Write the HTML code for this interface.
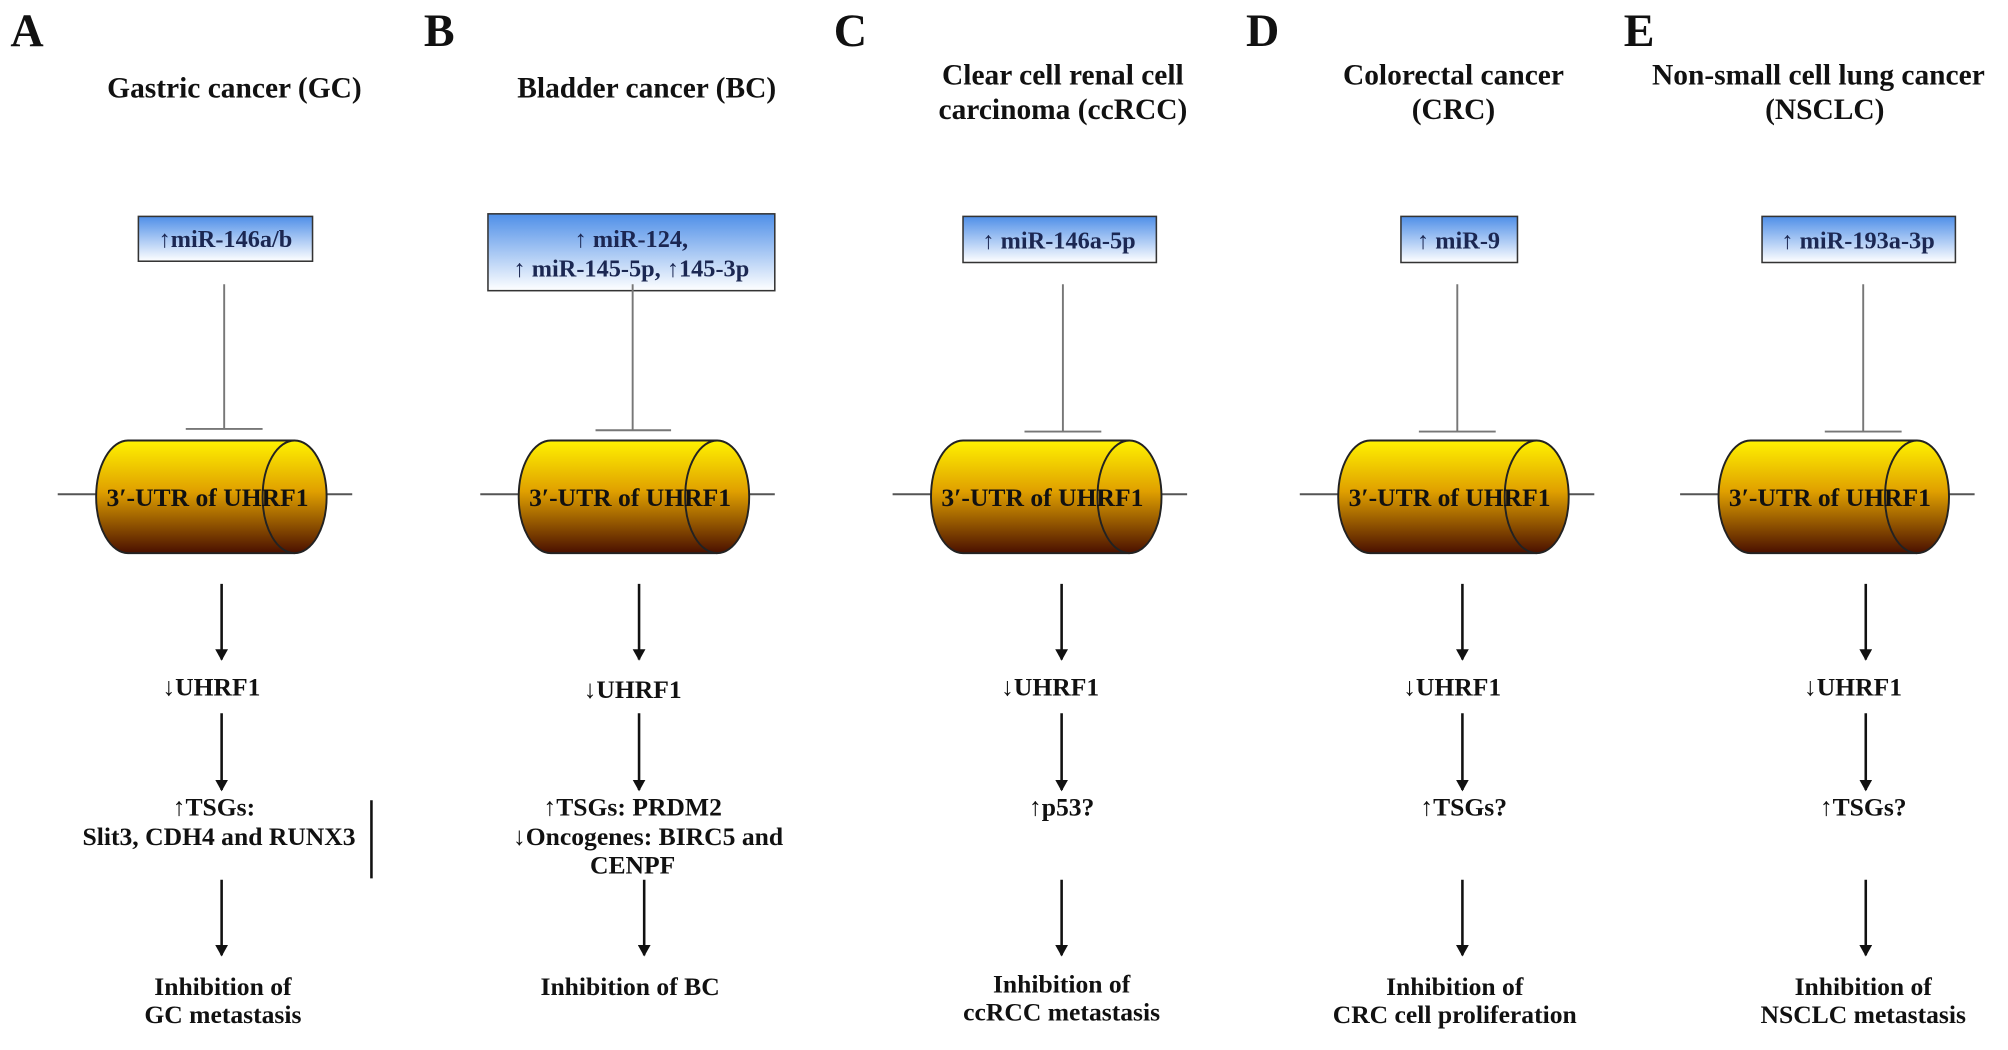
<!DOCTYPE html>
<html><head><meta charset="utf-8"><style>
html,body{margin:0;padding:0;background:#fff;}
svg{display:block;}
text{font-family:"Liberation Serif",serif;font-weight:bold;fill:#111;}
.t{font-size:23px;}
.b{font-size:20px;}
.bx{font-size:19px;fill:#1b2752;}
.L{font-size:36px;}
</style></head><body>
<svg width="2008" height="1050" viewBox="0 0 1568 820" xmlns="http://www.w3.org/2000/svg">
<defs>
<linearGradient id="bl" x1="0" y1="0" x2="0" y2="1"><stop offset="0" stop-color="#4f8fe8"/><stop offset="1" stop-color="#ffffff"/></linearGradient>
<linearGradient id="cy" x1="0" y1="0" x2="0" y2="1"><stop offset="0" stop-color="#fff200"/><stop offset="0.45" stop-color="#e0a000"/><stop offset="1" stop-color="#4a1000"/></linearGradient>
<marker id="ar" markerWidth="10" markerHeight="10" refX="8" refY="5" orient="auto" markerUnits="userSpaceOnUse"><path d="M0,0 L9,5 L0,10 Z" fill="#111"/></marker>
<g id="cyl">
<line x1="-125" y1="-2" x2="105" y2="-2" stroke="#555" stroke-width="1.5"/>
<path d="M-70,-44 L60,-44 A25,44 0 0 1 60,44 L-70,44 A25,44 0 0 1 -70,-44 Z" fill="url(#cy)" stroke="#222" stroke-width="1.5"/>
<path d="M60,-44 A25,44 0 0 0 60,44" fill="none" stroke="#222" stroke-width="1.5"/>
<text x="-8" y="7" class="b" text-anchor="middle" fill="#222">3′-UTR of UHRF1</text>
</g>
</defs>
<text x="8" y="36" class="L">A</text>
<text x="331" y="36" class="L">B</text>
<text x="651" y="36" class="L">C</text>
<text x="973" y="36" class="L">D</text>
<text x="1268" y="36" class="L">E</text>

<text x="183" y="76" class="t" text-anchor="middle">Gastric cancer (GC)</text>
<text x="505" y="76" class="t" text-anchor="middle">Bladder cancer (BC)</text>
<text x="830" y="66" class="t" text-anchor="middle">Clear cell renal cell</text>
<text x="830" y="93" class="t" text-anchor="middle">carcinoma (ccRCC)</text>
<text x="1135" y="66" class="t" text-anchor="middle">Colorectal cancer</text>
<text x="1135" y="93" class="t" text-anchor="middle">(CRC)</text>
<text x="1420" y="66" class="t" text-anchor="middle">Non-small cell lung cancer</text>
<text x="1425" y="93" class="t" text-anchor="middle">(NSCLC)</text>

<g stroke="#333" stroke-width="1.2">
<rect x="108" y="169" width="136" height="35" fill="url(#bl)"/>
<rect x="381" y="167" width="224" height="60" fill="url(#bl)"/>
<rect x="752" y="169" width="151" height="36" fill="url(#bl)"/>
<rect x="1094" y="169" width="91" height="36" fill="url(#bl)"/>
<rect x="1376" y="169" width="151" height="36" fill="url(#bl)"/>
</g>
<text x="176" y="193" class="bx" text-anchor="middle">↑miR-146a/b</text>
<text x="493" y="193" class="bx" text-anchor="middle">↑ miR-124,</text>
<text x="493" y="216" class="bx" text-anchor="middle">↑ miR-145-5p, ↑145-3p</text>
<text x="827" y="194" class="bx" text-anchor="middle">↑ miR-146a-5p</text>
<text x="1139" y="194" class="bx" text-anchor="middle">↑ miR-9</text>
<text x="1451" y="194" class="bx" text-anchor="middle">↑ miR-193a-3p</text>

<g stroke="#777" stroke-width="1.5">
<line x1="175" y1="222" x2="175" y2="335"/><line x1="145" y1="335" x2="205" y2="335"/>
<line x1="494" y1="222" x2="494" y2="336"/><line x1="465" y1="336" x2="524" y2="336"/>
<line x1="830" y1="222" x2="830" y2="337"/><line x1="800" y1="337" x2="860" y2="337"/>
<line x1="1138" y1="222" x2="1138" y2="337"/><line x1="1108" y1="337" x2="1168" y2="337"/>
<line x1="1455" y1="222" x2="1455" y2="337"/><line x1="1425" y1="337" x2="1485" y2="337"/>
</g>

<use href="#cyl" x="170" y="388"/>
<use href="#cyl" x="500" y="388"/>
<use href="#cyl" x="822" y="388"/>
<use href="#cyl" x="1140" y="388"/>
<use href="#cyl" x="1437" y="388"/>

<g stroke="#111" stroke-width="2" marker-end="url(#ar)">
<line x1="173" y1="456" x2="173" y2="515"/><line x1="173" y1="557" x2="173" y2="617"/><line x1="173" y1="687" x2="173" y2="746"/>
<line x1="499" y1="456" x2="499" y2="515"/><line x1="499" y1="557" x2="499" y2="617"/><line x1="503" y1="687" x2="503" y2="746"/>
<line x1="829" y1="456" x2="829" y2="515"/><line x1="829" y1="557" x2="829" y2="617"/><line x1="829" y1="687" x2="829" y2="746"/>
<line x1="1142" y1="456" x2="1142" y2="515"/><line x1="1142" y1="557" x2="1142" y2="617"/><line x1="1142" y1="687" x2="1142" y2="746"/>
<line x1="1457" y1="456" x2="1457" y2="515"/><line x1="1457" y1="557" x2="1457" y2="617"/><line x1="1457" y1="687" x2="1457" y2="746"/>
</g>
<line x1="290" y1="625" x2="290" y2="686" stroke="#111" stroke-width="2"/>

<text x="165" y="543" class="b" text-anchor="middle">↓UHRF1</text>
<text x="167" y="637" class="b" text-anchor="middle">↑TSGs:</text>
<text x="171" y="660" class="b" text-anchor="middle">Slit3,  CDH4 and RUNX3</text>
<text x="174" y="777" class="b" text-anchor="middle">Inhibition of</text>
<text x="174" y="799" class="b" text-anchor="middle">GC metastasis</text>

<text x="494" y="545" class="b" text-anchor="middle">↓UHRF1</text>
<text x="494" y="637" class="b" text-anchor="middle">↑TSGs: PRDM2</text>
<text x="506" y="660" class="b" text-anchor="middle">↓Oncogenes: BIRC5 and</text>
<text x="494" y="682" class="b" text-anchor="middle">CENPF</text>
<text x="492" y="777" class="b" text-anchor="middle">Inhibition of BC</text>

<text x="820" y="543" class="b" text-anchor="middle">↓UHRF1</text>
<text x="829" y="637" class="b" text-anchor="middle">↑p53?</text>
<text x="829" y="775" class="b" text-anchor="middle">Inhibition of</text>
<text x="829" y="797" class="b" text-anchor="middle">ccRCC metastasis</text>

<text x="1134" y="543" class="b" text-anchor="middle">↓UHRF1</text>
<text x="1143" y="637" class="b" text-anchor="middle">↑TSGs?</text>
<text x="1136" y="777" class="b" text-anchor="middle">Inhibition of</text>
<text x="1136" y="799" class="b" text-anchor="middle">CRC cell proliferation</text>

<text x="1447" y="543" class="b" text-anchor="middle">↓UHRF1</text>
<text x="1455" y="637" class="b" text-anchor="middle">↑TSGs?</text>
<text x="1455" y="777" class="b" text-anchor="middle">Inhibition of</text>
<text x="1455" y="799" class="b" text-anchor="middle">NSCLC metastasis</text>
</svg>
</body></html>
